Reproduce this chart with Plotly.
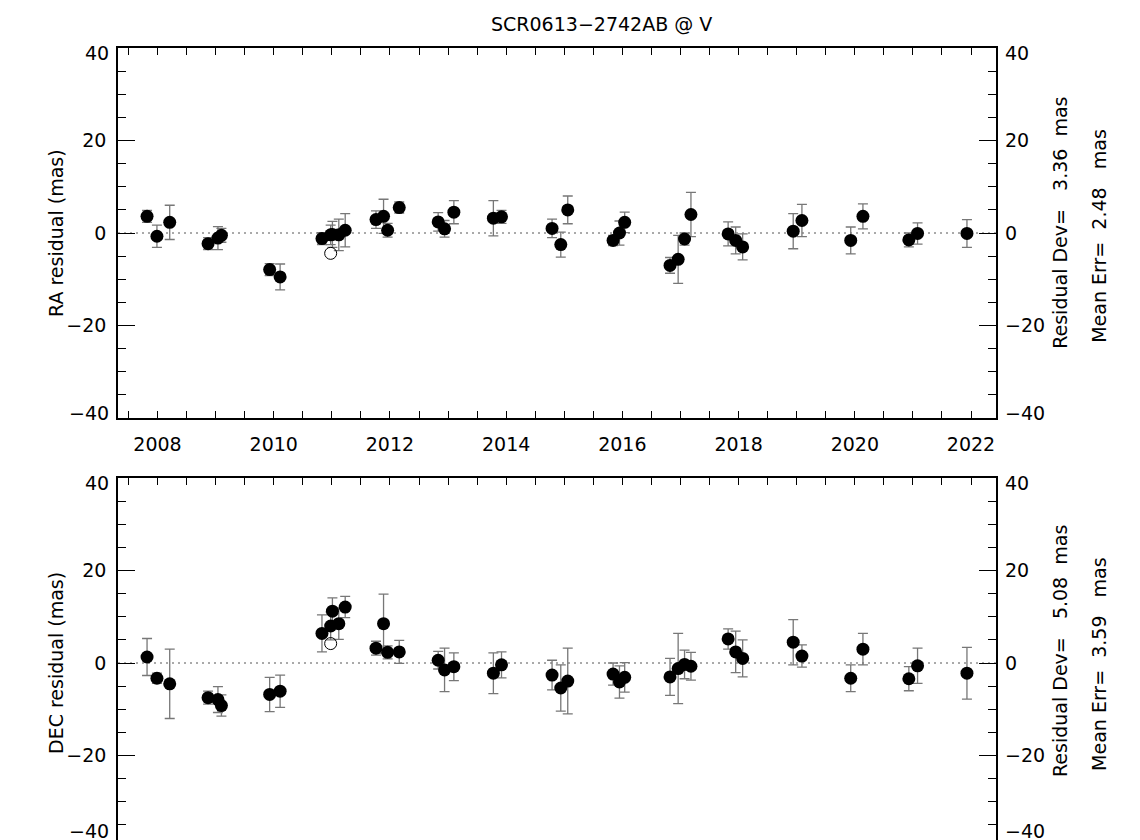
import plotly.graph_objects as go

# ---------------- data ----------------
epoch = [2007.82, 2007.99, 2008.21, 2008.87, 2009.04, 2009.10, 2009.93, 2010.11,
         2010.83, 2010.98, 2011.01, 2011.12, 2011.23, 2011.76, 2011.89, 2011.96,
         2012.16, 2012.83, 2012.94, 2013.10, 2013.78, 2013.92, 2014.79, 2014.94,
         2015.06, 2015.84, 2015.95, 2016.04, 2016.82, 2016.96, 2017.07, 2017.18,
         2017.82, 2017.95, 2018.07, 2018.94, 2019.09, 2019.93, 2020.14, 2020.93,
         2021.08, 2021.93]

ra_res = [3.6, -0.7, 2.3, -2.3, -1.1, -0.5, -7.9, -9.5, -1.2, -0.4, -0.3, -0.4,
          0.6, 2.9, 3.6, 0.6, 5.5, 2.4, 0.9, 4.5, 3.2, 3.5, 1.0, -2.5, 5.0, -1.6,
          0.0, 2.3, -7.0, -5.7, -1.3, 4.0, -0.2, -1.6, -3.0, 0.4, 2.7, -1.6, 3.6,
          -1.5, -0.1, -0.1]
ra_err = [1.3, 2.4, 3.7, 1.3, 2.5, 1.5, 1.3, 2.8, 1.3, 2.1, 2.8, 3.4, 3.6, 1.9,
          3.7, 1.5, 1.2, 2.0, 1.8, 2.5, 3.8, 1.4, 2.0, 2.7, 3.0, 1.1, 2.6, 2.2,
          1.7, 5.2, 1.3, 4.8, 2.6, 2.9, 2.8, 3.8, 3.5, 2.9, 2.7, 1.5, 2.3, 3.0]

dec_res = [1.3, -3.3, -4.5, -7.5, -7.9, -9.2, -6.8, -6.1, 6.4, 8.0, 11.2, 8.5,
           12.1, 3.2, 8.5, 2.3, 2.4, 0.6, -1.5, -0.8, -2.2, -0.4, -2.6, -5.4,
           -3.9, -2.4, -4.1, -3.1, -3.0, -1.2, -0.3, -0.7, 5.2, 2.4, 1.0, 4.5,
           1.5, -3.3, 3.0, -3.4, -0.6, -2.2]
dec_err = [4.0, 1.1, 7.5, 1.4, 2.8, 2.3, 3.7, 3.5, 4.0, 3.0, 2.9, 3.4, 2.3, 1.5,
           6.4, 1.4, 2.5, 1.9, 4.7, 3.0, 4.4, 2.8, 3.2, 5.0, 7.1, 2.4, 3.5, 3.2,
           4.0, 7.6, 3.1, 3.0, 2.2, 4.5, 4.0, 4.9, 2.4, 2.9, 3.4, 2.6, 3.8, 5.6]

# rejected (open-circle) point
rej_epoch = [2010.98]
ra_rej = [-4.4]
dec_rej = [4.2]

y_ticks = [-40, -20, 0, 20, 40]
x_ticks = [2008, 2010, 2012, 2014, 2016, 2018, 2020, 2022]

title_text = "SCR0613\u22122742AB @ V"
ra_label = "RA residual (mas)"
dec_label = "DEC residual (mas)"
ra_stats = ["Residual Dev=\u00a0\u00a0\u00a03.36\u00a0\u00a0mas", "Mean Err=\u00a0\u00a02.48\u00a0\u00a0\u00a0mas"]
dec_stats = ["Residual Dev=\u00a0\u00a0\u00a05.08\u00a0\u00a0mas", "Mean Err=\u00a0\u00a03.59\u00a0\u00a0\u00a0mas"]

# ---------------- layout constants ----------------
W, H = 1140, 840
ML, PW = 110, 878
MR = W - ML - PW
MT, MB = 40, 0
PH = H - MT - MB
FONT = "DejaVu Sans"
FS = 19
ERRC = "#777777"

def px_x(p):
    return (p - ML) / PW

top_dom = [(H - 410) / PH, 1.0]
bot_dom = [0.0, 370 / PH]

fig = go.Figure()

def add_panel(res, err, rej, xa, ya):
    fig.add_trace(go.Scatter(
        x=epoch, y=res, mode="markers", xaxis=xa, yaxis=ya,
        marker=dict(color="black", size=13),
        error_y=dict(type="data", array=err, color=ERRC, thickness=1.3, width=5),
        showlegend=False, hoverinfo="skip"))
    fig.add_trace(go.Scatter(
        x=rej_epoch, y=rej, mode="markers", xaxis=xa, yaxis=ya,
        marker=dict(symbol="circle-open", color="black", size=12, line=dict(width=1)),
        showlegend=False, hoverinfo="skip"))

add_panel(ra_res, ra_err, ra_rej, "x", "y")
add_panel(dec_res, dec_err, dec_rej, "x2", "y2")
# invisible traces to activate the right-hand label axes
fig.add_trace(go.Scatter(x=[2010], y=[0], xaxis="x", yaxis="y3", mode="markers",
                         marker=dict(opacity=0), showlegend=False, hoverinfo="skip"))
fig.add_trace(go.Scatter(x=[2010], y=[0], xaxis="x2", yaxis="y4", mode="markers",
                         marker=dict(opacity=0), showlegend=False, hoverinfo="skip"))

xr = [min(epoch) - 0.5, max(epoch) + 0.5]
inner_ticks = y_ticks[1:-1]

xcommon = dict(range=xr, tickvals=x_ticks, ticks="inside", ticklen=7, tickwidth=1.3,
               tickcolor="black", showline=True, linecolor="black", linewidth=1.6,
               mirror="allticks", showgrid=False, zeroline=False,
               minor=dict(dtick=0.5, tick0=2007.5, ticks="inside", ticklen=7,
                          tickwidth=1.3, tickcolor="black", showgrid=False),
               tickfont=dict(family=FONT, size=FS, color="black"),
               ticklabelstandoff=8)
ycommon = dict(range=[-40, 40], tickvals=y_ticks, ticktext=["", "\u221220", "0", "20", ""],
               ticks="inside", ticklen=17,
               tickwidth=1.3, tickcolor="black", showline=True, linecolor="black",
               linewidth=1.6, mirror="allticks", showgrid=False, zeroline=False,
               minor=dict(dtick=5, ticks="inside", ticklen=8, tickwidth=1.3,
                          tickcolor="black", showgrid=False),
               tickfont=dict(family=FONT, size=FS, color="black"),
               ticklabelstandoff=6)
yright = dict(range=[-40, 40], tickvals=inner_ticks, ticks="", showline=False,
              showgrid=False, zeroline=False, side="right",
              tickfont=dict(family=FONT, size=FS, color="black"),
              ticklabelstandoff=8)

fig.update_layout(
    width=W, height=H,
    margin=dict(l=ML, r=MR, t=MT, b=MB),
    paper_bgcolor="white", plot_bgcolor="white",
    xaxis=dict(domain=[0, 1], anchor="y", **xcommon),
    yaxis=dict(domain=top_dom, anchor="x", **ycommon),
    xaxis2=dict(domain=[0, 1], anchor="y2", showticklabels=False, **xcommon),
    yaxis2=dict(domain=bot_dom, anchor="x2", **ycommon),
    yaxis3=dict(overlaying="y", anchor="x", **yright),
    yaxis4=dict(overlaying="y2", anchor="x2", **yright),
)

for ya in ["y", "y2"]:
    fig.add_shape(type="line", xref=("x" if ya == "y" else "x2") + " domain", x0=0, x1=1,
                  yref=ya, y0=0, y1=0, layer="below",
                  line=dict(color="#555555", width=1, dash="2px,4px"))

ann = []
ann.append(dict(text=title_text, xref="paper", yref="paper", x=px_x(593),
                y=(H - 16 - MB) / PH, xanchor="center", yanchor="middle", showarrow=False,
                font=dict(family=FONT, size=19, color="black")))
for lab, yref in [(ra_label, "y"), (dec_label, "y2")]:
    ann.append(dict(text=lab, xref="paper", yref=yref, x=px_x(48), y=0, textangle=-90,
                    xanchor="center", yanchor="middle", showarrow=False,
                    font=dict(family=FONT, size=FS, color="black")))
for stats, yref, offs in [(ra_stats, "y", (2.2, -0.6)), (dec_stats, "y2", (2.6, -0.2))]:
    for s, xp, yo in zip(stats, [1052, 1091], offs):
        ann.append(dict(text=s, xref="paper", yref=yref, x=px_x(xp), y=yo, textangle=-90,
                        xanchor="center", yanchor="middle", showarrow=False,
                        font=dict(family=FONT, size=FS, color="black")))
# end labels (+40 / -40), nudged inward like the original
for yref, is_bottom in [("y", False), ("y2", True)]:
    for side_x, xanc in [(px_x(ML - 7), "right"), (px_x(ML + PW + 7), "left")]:
        ann.append(dict(text=str(y_ticks[-1]), xref="paper", yref=yref, x=side_x, y=y_ticks[-1],
                        xanchor=xanc, yanchor="middle", yshift=-5, showarrow=False,
                        font=dict(family=FONT, size=FS, color="black")))
        if is_bottom:
            ann.append(dict(text="\u2212" + str(-y_ticks[0]), xref="paper", yref=yref, x=side_x,
                            y=y_ticks[0], xanchor=xanc, yanchor="bottom", yshift=4,
                            showarrow=False, font=dict(family=FONT, size=FS, color="black")))
        else:
            ann.append(dict(text="\u2212" + str(-y_ticks[0]), xref="paper", yref=yref, x=side_x,
                            y=y_ticks[0], xanchor=xanc, yanchor="middle", yshift=5,
                            showarrow=False, font=dict(family=FONT, size=FS, color="black")))
fig.update_layout(annotations=ann)

fig.write_html("out.html")
